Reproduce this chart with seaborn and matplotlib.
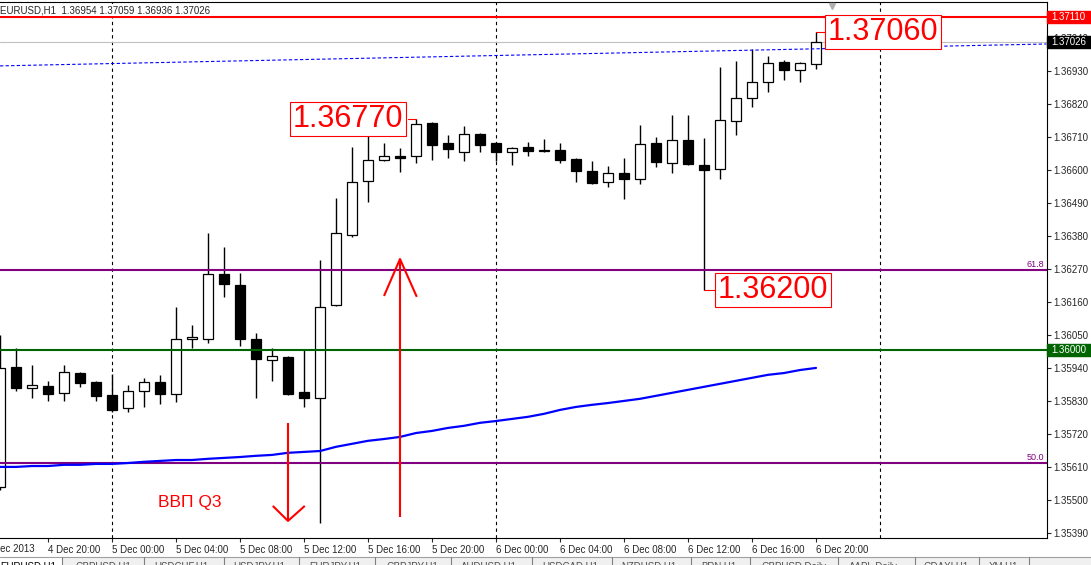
import numpy as np
import pandas as pd
import matplotlib
matplotlib.use("Agg")
import matplotlib.pyplot as plt
import matplotlib.transforms as mtransforms
from matplotlib.patches import Rectangle
import seaborn as sns

# EURUSD H1, one bar per hour from 4 Dec 2013 17:00 to 6 Dec 2013 20:00
opens = [1.35543, 1.35943, 1.35873, 1.35880, 1.35857, 1.35923, 1.35893, 1.35850, 1.35807, 1.35863,
         1.35893, 1.35853, 1.36037, 1.36037, 1.36253, 1.36217, 1.36037, 1.35967, 1.35977, 1.35860,
         1.35840, 1.36150, 1.36383, 1.36563, 1.36633, 1.36647, 1.36647, 1.36757, 1.36690, 1.36660,
         1.36720, 1.36690, 1.36660, 1.36677, 1.36667, 1.36667, 1.36637, 1.36597, 1.36560, 1.36590,
         1.36570, 1.36690, 1.36623, 1.36700, 1.36617, 1.36603, 1.36763, 1.36840, 1.36893, 1.36960,
         1.36933, 1.36954]
highs = [1.36050, 1.36007, 1.35950, 1.35897, 1.35950, 1.35925, 1.35895, 1.35920, 1.35883, 1.35907,
         1.35917, 1.36143, 1.36083, 1.36390, 1.36343, 1.36257, 1.36057, 1.36007, 1.35980, 1.36003,
         1.36300, 1.36507, 1.36677, 1.36740, 1.36690, 1.36673, 1.36770, 1.36760, 1.36717, 1.36747,
         1.36723, 1.36692, 1.36677, 1.36693, 1.36703, 1.36690, 1.36640, 1.36630, 1.36613, 1.36640,
         1.36750, 1.36710, 1.36783, 1.36783, 1.36707, 1.36943, 1.36963, 1.37003, 1.36980, 1.36967,
         1.36960, 1.37059]
lows = [1.35533, 1.35863, 1.35840, 1.35830, 1.35830, 1.35877, 1.35830, 1.35793, 1.35793, 1.35810,
        1.35820, 1.35827, 1.36007, 1.36023, 1.36177, 1.36013, 1.35840, 1.35897, 1.35850, 1.35810,
        1.35423, 1.36148, 1.36377, 1.36493, 1.36630, 1.36593, 1.36623, 1.36633, 1.36640, 1.36630,
        1.36660, 1.36630, 1.36617, 1.36647, 1.36660, 1.36623, 1.36560, 1.36553, 1.36543, 1.36503,
        1.36553, 1.36610, 1.36590, 1.36617, 1.36200, 1.36570, 1.36717, 1.36810, 1.36860, 1.36900,
        1.36893, 1.36936]
closes = [1.35940, 1.35873, 1.35883, 1.35853, 1.35927, 1.35890, 1.35847, 1.35800, 1.35863, 1.35893,
          1.35853, 1.36037, 1.36043, 1.36253, 1.36220, 1.36037, 1.35970, 1.35980, 1.35853, 1.35840,
          1.36143, 1.36390, 1.36560, 1.36633, 1.36647, 1.36640, 1.36753, 1.36683, 1.36670, 1.36720,
          1.36683, 1.36660, 1.36673, 1.36663, 1.36663, 1.36633, 1.36597, 1.36555, 1.36590, 1.36570,
          1.36687, 1.36627, 1.36700, 1.36620, 1.36600, 1.36767, 1.36840, 1.36893, 1.36957, 1.36933,
          1.36957, 1.37026]
# slow moving average (solid blue)
ma_vals = [1.35610, 1.35610, 1.35613, 1.35613, 1.35617, 1.35617, 1.35620, 1.35620, 1.35623, 1.35627,
           1.35630, 1.35633, 1.35633, 1.35637, 1.35640, 1.35643, 1.35647, 1.35650, 1.35657, 1.35660,
           1.35663, 1.35677, 1.35687, 1.35697, 1.35703, 1.35710, 1.35723, 1.35730, 1.35740, 1.35747,
           1.35757, 1.35763, 1.35770, 1.35777, 1.35787, 1.35800, 1.35810, 1.35817, 1.35823, 1.35830,
           1.35837, 1.35847, 1.35857, 1.35867, 1.35877, 1.35887, 1.35897, 1.35907, 1.35917, 1.35923,
           1.35933, 1.35940]
# dotted blue trend line (bar, price)
trend_bar = [0, 65.4]
trend_price = [1.36947, 1.37020]

# levels
res_level = 1.37110
bid = 1.37026
fib618 = 1.36267
round_level = 1.36000
fib500 = 1.35623

tick_labels = ["4 Dec 2013", "4 Dec 20:00", "5 Dec 00:00", "5 Dec 04:00", "5 Dec 08:00",
               "5 Dec 12:00", "5 Dec 16:00", "5 Dec 20:00", "6 Dec 00:00", "6 Dec 04:00",
               "6 Dec 08:00", "6 Dec 12:00", "6 Dec 16:00", "6 Dec 20:00"]
tabs = ["EURUSD,H1", "GBPUSD,H1", "USDCHF,H1", "USDJPY,H1", "EURJPY,H1", "GBPJPY,H1", "AUDUSD,H1",
        "USDCAD,H1", "NZDUSD,H1", "BRN,H1", "GBPUSD,Daily", "AAPL,Daily", "GDAXI,H1", "XM,H1"]

df = pd.DataFrame({"time": pd.date_range("2013-12-04 17:00", periods=len(opens), freq="h"),
                   "open": opens, "high": highs, "low": lows, "close": closes, "ma": ma_vals})
df["bar"] = np.arange(len(df))

sns.set_style("white")
plt.rcParams['font.family'] = ['Liberation Sans', 'DejaVu Sans']

W, H = 1091, 565
fig = plt.figure(figsize=(W / 100, H / 100), dpi=100)
ax = fig.add_axes([0, 27 / H, 1047 / W, 536 / H])
ax.set_xlim(0, 1047 / 16)
ax.set_ylim(1.35373, 1.37160)

# day separators
for d in ["2013-12-05 00:00", "2013-12-06 00:00", "2013-12-07 00:00"]:
    b = (pd.Timestamp(d) - df["time"].iloc[0]) / pd.Timedelta(hours=1)
    ax.axvline(b, color="black", lw=0.8, ls=(0, (3, 3)), zorder=1)

# horizontal levels
ax.axhline(bid, color="#c0c0c0", lw=0.8, zorder=1)
ax.axhline(res_level, color="red", lw=1.5, zorder=4)
ax.axhline(fib618, color="#800080", lw=1.5, zorder=4)
ax.axhline(fib500, color="#800080", lw=1.5, zorder=4)
ax.axhline(round_level, color="#006400", lw=1.5, zorder=4)
ax.plot(trend_bar, trend_price, color="blue", lw=0.8, ls=(0, (3, 2)), zorder=4)

# candles
ax.vlines(df["bar"], df["low"], df["high"], color="black", lw=1.0, zorder=2)
bull = df["close"] >= df["open"]
body = (df["close"] - df["open"]).abs().clip(lower=0.000005)
bottom = df[["open", "close"]].min(axis=1)
ax.bar(df["bar"], body, bottom=bottom, width=0.6,
       color=np.where(bull, "white", "black"), edgecolor="black", linewidth=0.9, zorder=3)

sns.lineplot(data=df, x="bar", y="ma", color="blue", lw=1.6, ax=ax, zorder=5)
ax.set_xlabel("")
ax.set_ylabel("")

# axes
for s in ["top", "right", "bottom"]:
    ax.spines[s].set_color("black")
    ax.spines[s].set_linewidth(0.8)
ax.spines["left"].set_visible(False)
ax.yaxis.tick_right()
yt = [1.35390 + 0.0011 * n for n in range(16)]
ax.set_yticks(yt)
ax.set_yticklabels([f"{v:.5f}" for v in yt])
ax.tick_params(axis="y", direction="out", length=3, width=0.8, pad=1.5, labelsize=7,
               right=True, left=False)
tick_pos = [-1 + 4 * n for n in range(len(tick_labels))]
ax.set_xticks(tick_pos[1:])
ax.set_xticklabels(tick_labels[1:], ha="left")
ax.tick_params(axis="x", direction="out", length=3, width=0.8, pad=2, labelsize=7, bottom=True)
bx = mtransforms.blended_transform_factory(ax.transData, ax.transAxes)
ax.text(tick_pos[0] + 0.05, -11.5 / 536, tick_labels[0], transform=bx, ha="left", va="center",
        fontsize=7, clip_on=False)

# price boxes on the right scale
yb = mtransforms.blended_transform_factory(fig.transFigure, ax.transData)
for price, col in [(res_level, "red"), (bid, "black"), (round_level, "#006400")]:
    ax.add_patch(Rectangle((1047 / W, price - 0.0002), 44 / W, 0.0004, transform=yb,
                           facecolor=col, edgecolor=col, clip_on=False, zorder=10))
    ax.text(1051 / W, price, f"{price:.5f}", transform=yb, color="white", fontsize=7,
            ha="left", va="center", clip_on=False, zorder=11)

# header
ax.text(0.0, 0.985, "EURUSD,H1  1.36954 1.37059 1.36936 1.37026", transform=ax.transAxes,
        fontsize=7, ha="left", va="center",
        bbox=dict(boxstyle="square,pad=0.15", fc="white", ec="none"), zorder=12)
ax.plot(832 / 1047, 0.992, marker="v", color="#b0b0b0", ms=5, transform=ax.transAxes,
        clip_on=False, zorder=12)

# fib labels
ax.text(65.25, fib618 + 0.00003, "61.8", color="#800080", fontsize=6.5, ha="right", va="bottom")
ax.text(65.25, fib500 + 0.00003, "50.0", color="#800080", fontsize=6.5, ha="right", va="bottom")

# price labels with connectors
box = dict(boxstyle="square,pad=0.08", fc="white", ec="red", lw=0.8)
ax.plot([25.5, 26], [1.36770, 1.36770], color="red", lw=0.8, zorder=6)
ax.text(18.3, 1.36770, "1.36770", color="red", fontsize=22, ha="left", va="center",
        bbox=box, zorder=7)
ax.plot([44, 44.75], [1.36200, 1.36200], color="red", lw=0.8, zorder=6)
ax.text(44.85, 1.36200, "1.36200", color="red", fontsize=22, ha="left", va="center",
        bbox=box, zorder=7)
ax.plot([51, 51.62], [1.37060, 1.37060], color="red", lw=0.8, zorder=6)
ax.text(51.72, 1.37060, "1.37060", color="red", fontsize=22, ha="left", va="center",
        bbox=box, zorder=7)

# news arrows
arrow_kw = dict(color="red", lw=1.5, zorder=6, solid_capstyle="butt")
ax.plot([18, 18], [1.35757, 1.35430], **arrow_kw)
ax.plot([17.05, 18, 19.05], [1.35480, 1.35430, 1.35480], **arrow_kw)
ax.plot([25, 25], [1.35443, 1.36303], **arrow_kw)
ax.plot([24.0, 25, 26.05], [1.36180, 1.36303, 1.36177], **arrow_kw)
ax.text(9.9, 1.35490, "ВВП Q3", color="red", fontsize=12.5, ha="left", va="center")

# symbol tabs at the bottom
fig.patches.append(Rectangle((0, 0), 1, 8 / H, transform=fig.transFigure,
                             facecolor="#f0f0f0", edgecolor="none"))
fig.patches.append(Rectangle((0, 0), 62 / W, 8 / H, transform=fig.transFigure,
                             facecolor="white", edgecolor="none"))
fig.add_artist(plt.Line2D([0, 1], [8 / H, 8 / H], transform=fig.transFigure,
                          color="#a0a0a0", lw=0.8))
tab_x = [0, 75, 154, 233, 309, 386, 461, 542, 621, 701, 761, 849, 924, 989]
sep_x = [62, 144, 224, 299, 375, 451, 532, 612, 691, 750, 838, 915, 979, 1029]
for t, x in zip(tabs, tab_x):
    fig.text(x / W, 3.5 / H, t, fontsize=7, ha="left", va="top",
             color="black" if x == 0 else "#505050")
for x in sep_x:
    fig.add_artist(plt.Line2D([x / W, x / W], [0, 8 / H], transform=fig.transFigure,
                              color="#808080", lw=0.8))

fig.savefig("out.png", dpi=100)
plt.close(fig)
